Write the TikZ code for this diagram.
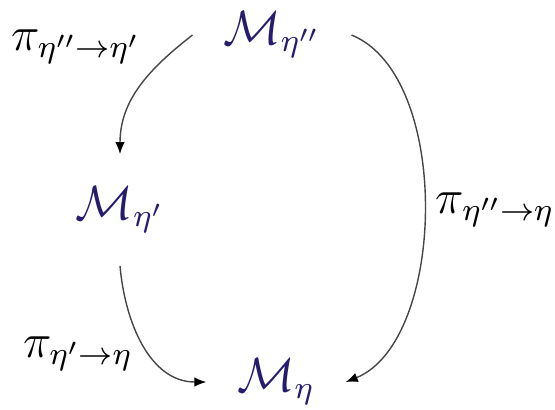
\documentclass[tikz,border=0pt]{standalone}
\usepackage{amsmath,amssymb}
\usepackage{xcolor}
\usetikzlibrary{arrows.meta,positioning}
\definecolor{setblue}{RGB}{38,28,110}

\begin{document}
\begin{tikzpicture}[
  x=0.25pt, y=-0.25pt,
  font=\large,
  mset/.style={text=setblue, inner xsep=7.5pt, inner ysep=8pt},
  lbl/.style={text=black, inner sep=0pt},
  ar/.style={-{Latex[length=3pt,width=2.4pt,black]}, line width=0.35pt, gray!55!black}
]
\useasboundingbox (0,0) rectangle (555,409);

\node[mset] (top) at (272,35) {$\mathcal{M}_{\eta''}$};
\node[mset, on grid, below left=43.75pt and 38pt of top] (mid) {$\mathcal{M}_{\eta'}$};
\node[mset, on grid, below=86.75pt of top, xshift=1pt] (bot) {$\mathcal{M}_{\eta}$};

\node[lbl] (pitop) at (76,47) {$\pi_{\eta''\to\eta'}$};
\node[lbl] (piright) at (495,210) {$\pi_{\eta''\to\eta}$};
\node[lbl] (pileft) at (78,354) {$\pi_{\eta'\to\eta}$};

\draw[ar] (top.west) to[out=218, in=90] (mid.north);
\draw[ar] (top.east) to[out=-22, in=22, looseness=0.8] (bot.east);
\draw[ar] (mid.south) to[out=-85, in=180] (bot.west);

\end{tikzpicture}
\end{document}
